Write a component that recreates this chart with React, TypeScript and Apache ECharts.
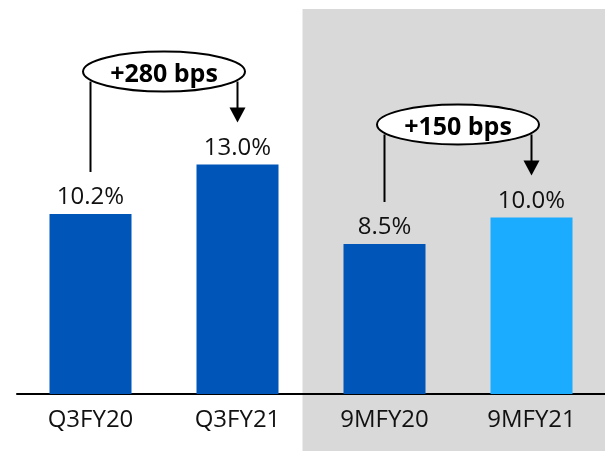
import React, { useEffect, useRef } from "react";
import * as echarts from "echarts";

// Operating margin by period
const categories = ["Q3FY20", "Q3FY21", "9MFY20", "9MFY21"];
const marginPct = [10.2, 13.0, 8.5, 10.0];
const barColors = ["#0055B8", "#0055B8", "#0055B8", "#1CACFF"];
// Year-on-year comparisons drawn as "+N bps" callouts: [from, to]
const comparisons: [number, number][] = [
  [0, 1],
  [2, 3],
];
// Periods sitting on the shaded panel
const shadedFrom = 2;

const FONT = "'Open Sans', 'DejaVu Sans', sans-serif";

export default function App() {
  const ref = useRef<HTMLDivElement>(null);

  useEffect(() => {
    if (!ref.current) return;
    const chart = echarts.init(ref.current, null, { renderer: "svg" });

    chart.setOption({
      animation: false,
      grid: { left: 17, right: 0, top: 41, bottom: 57 },
      xAxis: {
        type: "category",
        data: categories,
        axisLine: { lineStyle: { color: "#000", width: 2 } },
        axisTick: { show: false },
        axisLabel: {
          color: "#111",
          fontFamily: FONT,
          fontSize: 24,
          margin: 11,
        },
      },
      yAxis: {
        type: "value",
        min: 0,
        max: 20,
        show: false,
        splitLine: { show: false },
      },
      series: [
        {
          type: "bar",
          z: 2,
          barWidth: 82,
          data: marginPct.map((v, i) => ({
            value: v,
            itemStyle: { color: barColors[i] },
          })),
          label: {
            show: true,
            position: "top",
            distance: 7,
            color: "#111",
            fontFamily: FONT,
            fontSize: 24,
            formatter: (p: any) => `${Number(p.value).toFixed(1)}%`,
          },
        },
      ],
    });

    // Build the shaded panel and the callouts from the axis scale
    const px = (i: number, v: number) =>
      chart.convertToPixel({ gridIndex: 0 }, [i, v]) as number[];
    const [shadeX] = px(shadedFrom, 0);
    const graphic: any[] = [
      {
        type: "rect",
        z: -10,
        silent: true,
        shape: { x: shadeX - 82, y: 9, width: 605, height: 451 },
        style: { fill: "#D9D9D9" },
      },
    ];

    comparisons.forEach(([a, b]) => {
      const [xa, ya] = px(a, marginPct[a]);
      const [xb, yb] = px(b, marginPct[b]);
      const tipY = yb - 42;
      const ellY = Math.min(ya, yb) - 93;
      const bps = Math.round((marginPct[b] - marginPct[a]) * 100);
      const stroke = { stroke: "#000", lineWidth: 2 };
      graphic.push(
        {
          type: "line",
          z: 100,
          shape: { x1: xa, y1: ellY + 10, x2: xa, y2: ya - 42 },
          style: stroke,
        },
        {
          type: "line",
          z: 100,
          shape: { x1: xb, y1: ellY + 10, x2: xb, y2: tipY - 14 },
          style: stroke,
        },
        {
          type: "polygon",
          z: 100,
          shape: {
            points: [
              [xb - 8, tipY - 15],
              [xb + 8, tipY - 15],
              [xb, tipY],
            ],
          },
          style: { fill: "#000" },
        },
        {
          type: "ellipse",
          z: 101,
          shape: { cx: (xa + xb) / 2, cy: ellY, rx: 81, ry: 20 },
          style: { fill: "#fff", stroke: "#000", lineWidth: 2 },
        },
        {
          type: "text",
          z: 102,
          x: (xa + xb) / 2,
          y: ellY,
          style: {
            text: `${bps >= 0 ? "+" : ""}${bps} bps`,
            fill: "#000",
            font: `bold 25px ${FONT}`,
            align: "center",
            verticalAlign: "middle",
          },
        }
      );
    });

    chart.setOption({ graphic });

    return () => chart.dispose();
  }, []);

  return (
    <div
      ref={ref}
      style={{ position: "fixed", left: 0, top: 0, width: 605, height: 451 }}
    />
  );
}
